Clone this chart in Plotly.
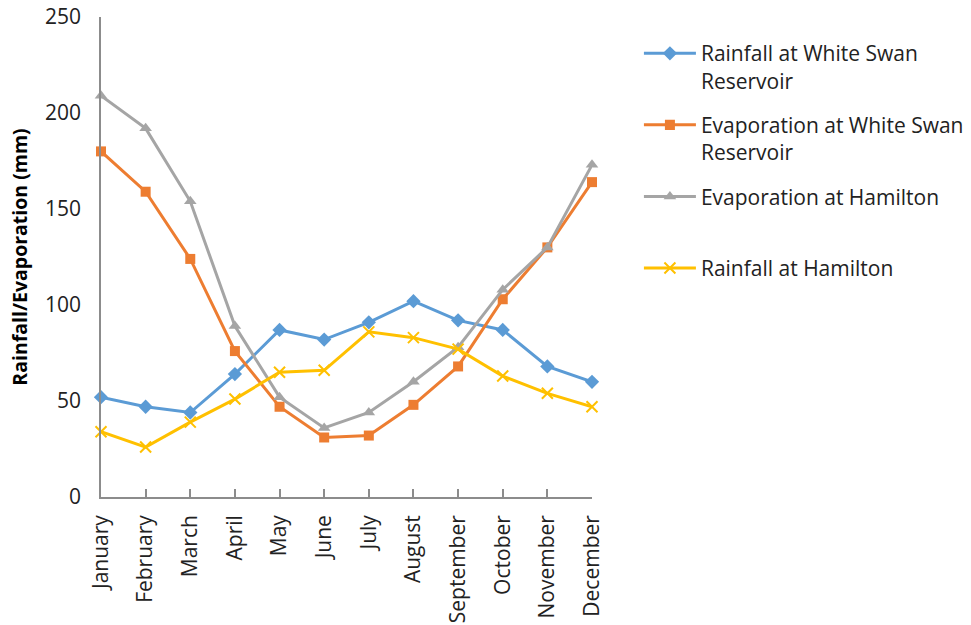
import plotly.graph_objects as go

months = ["January", "February", "March", "April", "May", "June", "July",
          "August", "September", "October", "November", "December"]
rain_ws = [52, 47, 44, 64, 87, 82, 91, 102, 92, 87, 68, 60]
evap_ws = [180, 159, 124, 76, 47, 31, 32, 48, 68, 103, 130, 164]
evap_ham = [209, 192, 154, 89, 52, 36, 44, 60, 78, 108, 130, 173]
rain_ham = [34, 26, 39, 51, 65, 66, 86, 83, 77, 63, 54, 47]

FONT = "Open Sans"

fig = go.Figure()
fig.add_trace(go.Scatter(x=months, y=rain_ws, mode="lines+markers",
                         name="Rainfall at White Swan<br>Reservoir", legendgroup="a",
                         line=dict(color="#5B9BD5", width=3),
                         marker=dict(symbol="diamond", size=11, color="#5B9BD5"),
                         cliponaxis=False))
fig.add_trace(go.Scatter(x=months, y=evap_ws, mode="lines+markers",
                         name="Evaporation at White Swan<br>Reservoir", legendgroup="b",
                         line=dict(color="#ED7D31", width=3),
                         marker=dict(symbol="square", size=10, color="#ED7D31"),
                         cliponaxis=False))
fig.add_trace(go.Scatter(x=months, y=evap_ham, mode="lines+markers",
                         name="Evaporation at Hamilton<br> ", legendgroup="c",
                         line=dict(color="#A5A5A5", width=3),
                         marker=dict(symbol="triangle-up", size=11, color="#A5A5A5"),
                         cliponaxis=False))
fig.add_trace(go.Scatter(x=months, y=rain_ham, mode="lines+markers",
                         name="Rainfall at Hamilton", legendgroup="d",
                         line=dict(color="#FFC000", width=3),
                         marker=dict(symbol="x-thin", size=11,
                                     line=dict(color="#FFC000", width=2)),
                         cliponaxis=False))

fig.update_layout(
    width=971, height=625,
    margin=dict(l=101, r=379, t=17, b=128),
    paper_bgcolor="white", plot_bgcolor="white",
    font=dict(family=FONT, size=18, color="#222222"),
    showlegend=True,
    legend=dict(xref="container", yref="container", x=0.658, y=0.947,
                xanchor="left", yanchor="top",
                valign="top", font=dict(family=FONT, size=21, color="#222222"),
                bgcolor="rgba(0,0,0,0)", itemwidth=52, tracegroupgap=14),
)
fig.update_xaxes(type="category", range=[0, 11], showgrid=False, automargin=False,
                 showline=True, linecolor="#8C8C8C", linewidth=1.5,
                 ticks="inside", ticklen=8, tickcolor="#8C8C8C", tickwidth=1.5,
                 tickangle=-90, tickfont=dict(family=FONT, size=21, color="#222222"),
                 ticklabelstandoff=8, zeroline=False)
fig.update_yaxes(range=[0, 250], tickvals=[0, 50, 100, 150, 200, 250],
                 showgrid=False, zeroline=False, automargin=False,
                 showline=True, linecolor="#8C8C8C", linewidth=1.5,
                 ticks="", tickfont=dict(family=FONT, size=21, color="#222222"),
                 ticklabelstandoff=14,
                 title=dict(text="<b>Rainfall/Evaporation (mm)</b>",
                            font=dict(family=FONT, size=19.5, color="#000000"),
                            standoff=12))

fig.write_html("out.html")
